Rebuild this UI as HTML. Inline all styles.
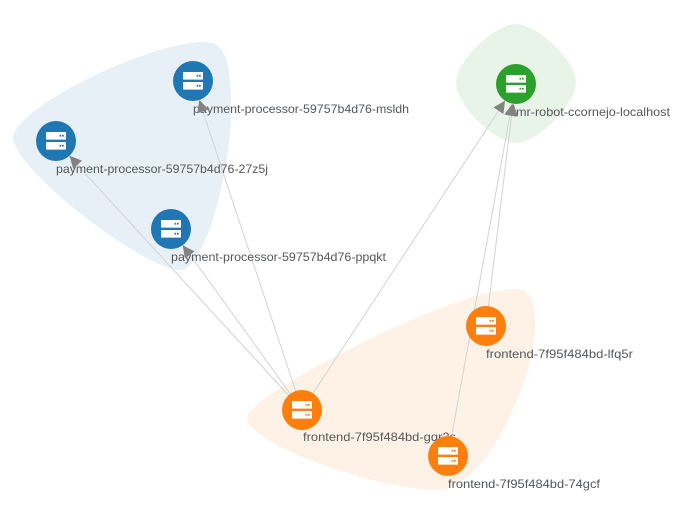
<!DOCTYPE html>
<html>
<head>
<meta charset="utf-8">
<style>
html,body{margin:0;padding:0;background:#fff;}
svg{display:block;}
text{font-family:"Liberation Sans","DejaVu Sans",sans-serif;font-size:12px;fill:#55585b;}
</style>
</head>
<body>
<svg width="686" height="506" viewBox="0 0 686 506" xmlns="http://www.w3.org/2000/svg">
<defs>
<g id="srv">
<rect x="-10" y="-9" width="20" height="7.6" rx="0.6" fill="#fff"/>
<rect x="-10" y="1" width="20" height="7.6" rx="0.6" fill="#fff"/>
</g>
<g id="dots">
<rect x="3.5" y="-6.2" width="1.7" height="1.8"/><rect x="6" y="-6.2" width="1.7" height="1.8"/>
<rect x="3.5" y="3.8" width="1.7" height="1.8"/><rect x="6" y="3.8" width="1.7" height="1.8"/>
</g>
<polygon id="ah" points="0,0 -12,-6 -12,6" fill="#828282"/>
</defs>

<path d="M13,137 C18,105 150,42 205,42 C225,42 231,60 231,110 C231,170 205,270 180,270 C145,270 13,170 13,137 Z" fill="#e8f0f7"/>
<path d="M456,83 C456,60 495,24 516,24 C537,24 576,60 576,83 C576,105 537,143 516,143 C495,143 456,105 456,83 Z" fill="#e9f4e9"/>
<path d="M247,417 C250,395 450,289 517,289 C530,289 535,300 535,325 C535,380 485,490 437,490 C380,490 247,445 247,417 Z" fill="#fef2e6"/>

<g stroke="#d2d2d2" stroke-width="1" fill="none">
<line x1="302" y1="410" x2="199" y2="100"/>
<line x1="302" y1="410" x2="69" y2="156"/>
<line x1="302" y1="410" x2="183" y2="245"/>
<line x1="302" y1="410" x2="505" y2="101"/>
<line x1="486" y1="326" x2="513" y2="104"/>
<line x1="448" y1="456" x2="512" y2="104"/>
</g>

<text x="193" y="113" textLength="216" lengthAdjust="spacingAndGlyphs">payment-processor-59757b4d76-msldh</text>
<text x="56" y="173" textLength="212" lengthAdjust="spacingAndGlyphs">payment-processor-59757b4d76-27z5j</text>
<text x="171" y="261" textLength="215" lengthAdjust="spacingAndGlyphs">payment-processor-59757b4d76-ppqkt</text>
<text x="516" y="116" textLength="154" lengthAdjust="spacingAndGlyphs">mr-robot-ccornejo-localhost</text>
<text x="486" y="358" textLength="147" lengthAdjust="spacingAndGlyphs">frontend-7f95f484bd-lfq5r</text>
<text x="303" y="441" textLength="153" lengthAdjust="spacingAndGlyphs">frontend-7f95f484bd-gqr2s</text>
<text x="448" y="488" textLength="152" lengthAdjust="spacingAndGlyphs">frontend-7f95f484bd-74gcf</text>

<g transform="translate(193,81)"><circle r="20" fill="#1f77b4"/><use href="#srv"/><use href="#dots" fill="#1f77b4"/></g>
<g transform="translate(56,141)"><circle r="20" fill="#1f77b4"/><use href="#srv"/><use href="#dots" fill="#1f77b4"/></g>
<g transform="translate(171,229)"><circle r="20" fill="#1f77b4"/><use href="#srv"/><use href="#dots" fill="#1f77b4"/></g>
<g transform="translate(516,84)"><circle r="20" fill="#2ca02c"/><use href="#srv"/><use href="#dots" fill="#2ca02c"/></g>
<g transform="translate(486,326)"><circle r="20" fill="#ff7f0e"/><use href="#srv"/><use href="#dots" fill="#ff7f0e"/></g>
<g transform="translate(302,410)"><circle r="20" fill="#ff7f0e"/><use href="#srv"/><use href="#dots" fill="#ff7f0e"/></g>
<g transform="translate(448,456)"><circle r="20" fill="#ff7f0e"/><use href="#srv"/><use href="#dots" fill="#ff7f0e"/></g>

<use href="#ah" transform="translate(199.3,100) rotate(-108.3)"/>
<use href="#ah" transform="translate(69.5,155.8) rotate(-132.4)"/>
<use href="#ah" transform="translate(182.7,245.2) rotate(-125.9)"/>
<use href="#ah" transform="translate(505,100.7) rotate(-56.7)"/>
<use href="#ah" transform="translate(513.5,103.8) rotate(-82.9)"/>
<use href="#ah" transform="translate(512.4,103.7) rotate(-79.6)"/>
</svg>
</body>
</html>
